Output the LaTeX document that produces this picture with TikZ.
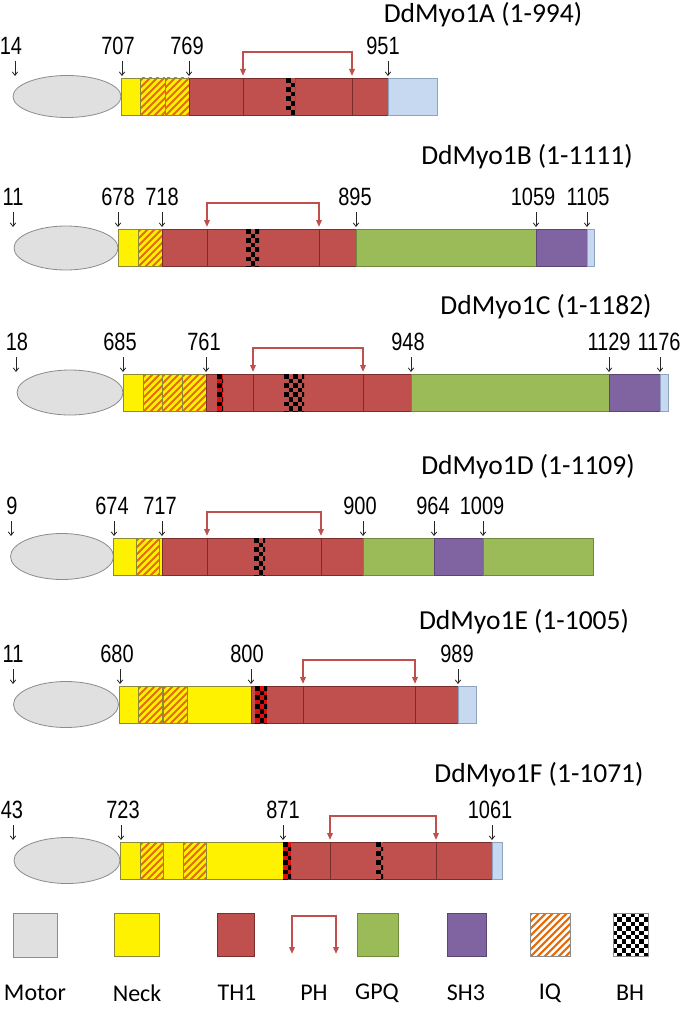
\documentclass[tikz,border=0pt]{standalone}
\usepackage{fontspec}
\setmainfont{Carlito}
\newfontfamily\numfont[FakeStretch=0.8]{Liberation Sans}
\usetikzlibrary{arrows.meta}

\definecolor{motorc}{HTML}{E0E0E0}
\definecolor{motorb}{HTML}{8C8C8C}
\definecolor{neckc}{HTML}{FFF200}
\definecolor{neckb}{HTML}{8C8A3A}
\definecolor{thc}{HTML}{C0504D}
\definecolor{thb}{HTML}{7A2E2C}
\definecolor{gpqc}{HTML}{9BBB59}
\definecolor{gpqb}{HTML}{6F8A3C}
\definecolor{shc}{HTML}{8064A2}
\definecolor{shb}{HTML}{5A4575}
\definecolor{lbc}{HTML}{C6D9F1}
\definecolor{lbb}{HTML}{8EA3BD}
\definecolor{iqs}{HTML}{E46C0A}
\definecolor{bhred}{HTML}{E01010}
\definecolor{phc}{HTML}{C0504D}

\tikzset{
  numlbl/.style={font=\numfont\fontsize{25}{25}\selectfont, inner sep=0pt, anchor=center},
  numarr/.style={-{Straight Barb[length=3.5pt,width=5.5pt]}, line width=0.8pt, black!85},
  titlelbl/.style={font=\fontsize{27.5}{27.5}\selectfont, inner sep=0pt},
  leglbl/.style={font=\fontsize{24}{24}\selectfont, inner sep=0pt},
  motor/.style={fill=motorc, draw=motorb, line width=0.8pt},
  phline/.style={draw=phc, line width=1.8pt, line join=miter,
    {Triangle[length=7pt,width=5.5pt]}-{Triangle[length=7pt,width=5.5pt]}},
  divline/.style={draw=thb, line width=0.6pt},
}

\newcommand\rowtop{0}
\newcommand\seg[3]{\filldraw[fill=#3c, draw=#3b, line width=0.6pt] (#1,\rowtop) rectangle (#2,\rowtop+37);}
\newcommand\hatchbox[5]{%
  \begin{scope}
    \clip (#1,#3) rectangle (#2,#4);
    \fill[#5] (#1,#3) rectangle (#2,#4);
    \foreach \k in {-50,-43,...,50} {\draw[iqs, line width=2.1pt] ({#1+\k},{#4+2}) -- ++(50,-50);}
  \end{scope}}
\newcommand\iqseg[2]{\hatchbox{#1}{#2}{\rowtop}{\rowtop+37}{neckc}%
  \draw[neckb, line width=0.6pt] (#1,\rowtop) rectangle (#2,\rowtop+37);}
\newcommand\checker[6]{%
  \begin{scope}
    \clip (#1,#2) rectangle (#3,#4);
    \fill[#5] (#1,#2) rectangle (#3,#4);
    \pgfmathtruncatemacro\cnx{ceil((#3-#1)/#6)}
    \pgfmathtruncatemacro\cny{ceil((#4-#2)/#6)}
    \foreach \i in {0,...,\cnx}{\foreach \j in {0,...,\cny}{%
      \pgfmathtruncatemacro\cpar{mod(\i+\j,2)}%
      \ifnum\cpar=0 \fill[black] ({#1+\i*#6},{#2+\j*#6}) rectangle ++(#6,#6);\fi
    }}
  \end{scope}}
\newcommand\bh[3]{\checker{#1}{\rowtop}{#2}{\rowtop+37}{#3}{4.6}}
\newcommand\dv[1]{\draw[divline] (#1,\rowtop) -- (#1,\rowtop+37);}
\newcommand\posmark[4]{%
  \node[numlbl] (#1) at (#2,\rowtop-32) {#4};
  \coordinate (#1a) at (#3,\rowtop-17);
  \coordinate (#1b) at (#3,\rowtop-2);
  \draw[numarr] (#1a) -- (#1b);}
\newcommand\phbr[3]{%
  \coordinate (#1l) at (#2,\rowtop-2);
  \coordinate (#1r) at (#3,\rowtop-2);
  \draw[phline] (#1l) -- ++(0,-24) -| (#1r);}

\begin{document}
\begin{tikzpicture}[x=1pt,y=-1pt]
\useasboundingbox[fill=white] (0,0) rectangle (683,1011);

% ---------------- Row A
\renewcommand\rowtop{78}
\node[titlelbl] (tA) at (483,15) {DdMyo1A (1-994)};
\filldraw[motor] (67,96.5) ellipse [x radius=54, y radius=21];
\seg{121}{140}{neck}
\iqseg{140}{165}
\iqseg{165}{189}
\seg{189}{388}{th}
\bh{286}{295}{thc}
\dv{243}\dv{352}
\seg{388}{437}{lb}
\posmark{a1}{11}{15}{14}
\posmark{a2}{118}{122}{707}
\posmark{a3}{187}{189}{769}
\posmark{a4}{383}{388}{951}
\phbr{phA}{243}{352}

% ---------------- Row B
\renewcommand\rowtop{229}
\node[titlelbl] (tB) at (527,157) {DdMyo1B (1-1111)};
\filldraw[motor] (66,248) ellipse [x radius=52, y radius=22];
\seg{118}{138}{neck}
\iqseg{138}{162}
\seg{162}{356}{th}
\bh{246}{259}{thc}
\dv{207}\dv{319}
\seg{356}{536}{gpq}
\seg{536}{587}{sh}
\seg{587}{594}{lb}
\posmark{b1}{13}{13}{11}
\posmark{b2}{118}{118}{678}
\posmark{b3}{162}{162}{718}
\posmark{b4}{355}{356}{895}
\posmark{b5}{533}{536}{1059}
\posmark{b6}{588}{587}{1105}
\phbr{phB}{207}{319}

% ---------------- Row C
\renewcommand\rowtop{374}
\node[titlelbl] (tC) at (546,307) {DdMyo1C (1-1182)};
\filldraw[motor] (70,392.5) ellipse [x radius=53, y radius=22.5];
\seg{123}{143}{neck}
\iqseg{143}{162}
\iqseg{162}{182}
\iqseg{182}{206}
\seg{206}{411}{th}
\bh{217}{223}{bhred}
\bh{284}{304}{thc}
\dv{253}\dv{363}
\seg{411}{609}{gpq}
\seg{609}{660}{sh}
\seg{660}{668}{lb}
\posmark{c1}{17}{16}{18}
\posmark{c2}{120}{123}{685}
\posmark{c3}{204}{206}{761}
\posmark{c4}{408}{411}{948}
\posmark{c5}{609}{609}{1129}
\posmark{c6}{659}{660}{1176}
\phbr{phC}{253}{363}

% ---------------- Row D
\renewcommand\rowtop{538}
\node[titlelbl] (tD) at (528,467) {DdMyo1D (1-1109)};
\filldraw[motor] (62,556.5) ellipse [x radius=51.5, y radius=23];
\seg{113}{136}{neck}
\iqseg{136}{159}
\seg{159}{162}{neck}
\seg{162}{363}{th}
\bh{254}{265}{thc}
\dv{207}\dv{321}
\seg{363}{434}{gpq}
\seg{434}{483}{sh}
\seg{483}{593}{gpq}
\posmark{d1}{12}{11}{9}
\posmark{d2}{112}{114}{674}
\posmark{d3}{160}{162}{717}
\posmark{d4}{360}{363}{900}
\posmark{d5}{433}{434}{964}
\posmark{d6}{482}{483}{1009}
\phbr{phD}{207}{321}

% ---------------- Row E
\renewcommand\rowtop{686}
\node[titlelbl] (tE) at (524,622) {DdMyo1E (1-1005)};
\filldraw[motor] (66,704.5) ellipse [x radius=52.5, y radius=23];
\seg{119}{138}{neck}
\iqseg{138}{162}
\iqseg{163}{187}
\seg{187}{251}{neck}
\seg{251}{458}{th}
\bh{255}{267}{bhred}
\dv{303}\dv{415}
\seg{458}{476}{lb}
\posmark{e1}{13}{13}{11}
\posmark{e2}{117}{120}{680}
\posmark{e3}{247}{251}{800}
\posmark{e4}{457}{458}{989}
\phbr{phE}{303}{415}

% ---------------- Row F
\renewcommand\rowtop{842}
\node[titlelbl] (tF) at (539,775) {DdMyo1F (1-1071)};
\filldraw[motor] (67,860.5) ellipse [x radius=53, y radius=23];
\seg{120}{140}{neck}
\iqseg{140}{163}
\seg{163}{183}{neck}
\iqseg{183}{206}
\seg{206}{283}{neck}
\seg{283}{492}{th}
\bh{283}{291}{bhred}
\bh{376}{383}{thc}
\dv{330}\dv{436}
\seg{492}{502}{lb}
\posmark{f1}{12}{13}{43}
\posmark{f2}{123}{121}{723}
\posmark{f3}{283}{283}{871}
\posmark{f4}{490}{492}{1061}
\phbr{phF}{330}{436}

% ---------------- Legend
\filldraw[motor] (13,913) rectangle (57,957);
\filldraw[fill=neckc, draw=neckb, line width=0.6pt] (114,913) rectangle (159,956);
\filldraw[fill=thc, draw=thb, line width=0.6pt] (217,913) rectangle (254,956);
\coordinate (lphl) at (292,954);
\coordinate (lphr) at (336,954);
\draw[phline] (lphl) -- ++(0,-38) -| (lphr);
\filldraw[fill=gpqc, draw=gpqb, line width=0.6pt] (357,913) rectangle (398,956);
\filldraw[fill=shc, draw=shb, line width=0.6pt] (447,913) rectangle (486,956);
\hatchbox{530}{570}{913}{956}{white}
\draw[motorb, line width=0.6pt] (530,913) rectangle (570,956);
\checker{613}{913}{648}{956}{white}{4.4}
\draw[motorb, line width=0.6pt] (613,913) rectangle (648,956);
\node[leglbl] (lMotor) at (35,993) {Motor};
\node[leglbl] (lNeck) at (137,993) {Neck};
\node[leglbl] (lTH) at (237,993) {TH1};
\node[leglbl] (lPH) at (314,993) {PH};
\node[leglbl] (lGPQ) at (377,993) {GPQ};
\node[leglbl] (lSH) at (466,993) {SH3};
\node[leglbl] (lIQ) at (550,993) {IQ};
\node[leglbl] (lBH) at (630,993) {BH};
\end{tikzpicture}
\end{document}
